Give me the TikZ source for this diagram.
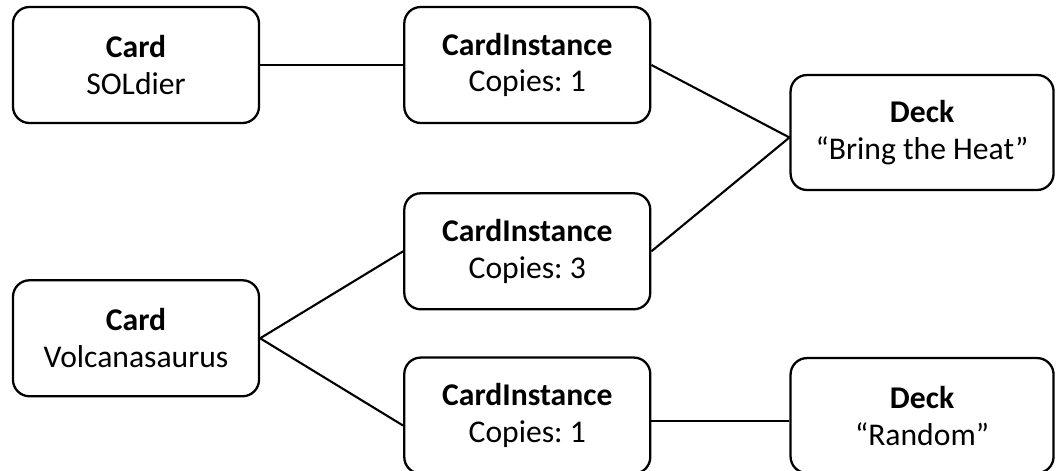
\documentclass[tikz,border=0pt]{standalone}
\usepackage{fontspec}
\setmainfont{Carlito}
\usetikzlibrary{positioning}
\frenchspacing
\tikzset{
  entity/.style={draw, line width=1.3pt, rounded corners=0.33cm, align=center,
    minimum width=4.92cm, minimum height=2.32cm, inner sep=0pt,
    font=\fontsize{18}{21}\selectfont},
  deck/.style={entity, minimum width=5.26cm, minimum height=2.3cm},
  link/.style={line width=1.2pt}
}
\begin{document}
\begin{tikzpicture}
      \useasboundingbox (-2.72,1.3) rectangle (18.42,-8.12);
      % Define nodes
      \node[entity]                              (card1) {\textbf{Card}\\SOLdier};
      \node[entity, right=2.86cm of card1]       (inst1) {\textbf{CardInstance}\\Copies: 1};
      \node[deck, right=2.76cm of inst1, yshift=-1.35cm] (deck1) {\textbf{Deck}\\“Bring the Heat”};
      \node[entity, below=1.36cm of inst1]       (inst2) {\textbf{CardInstance}\\Copies: 3};
      \node[entity, left=2.86cm of inst2, yshift=-1.74cm] (card2) {\textbf{Card}\\Volcanasaurus};
      \node[entity, below=0.92cm of inst2]       (inst3) {\textbf{CardInstance}\\Copies: 1};
      \node[deck, right=2.76cm of inst3]         (deck2) {\textbf{Deck}\\“Random”};
      % Connect nodes
      \draw[link] (card1.east) -- (inst1.west);
      \draw[link] (inst1.east) -- ([yshift=-0.1cm]deck1.west);
      \draw[link] (inst2.east) -- ([yshift=-0.1cm]deck1.west);
      \draw[link] (card2.east) -- (inst2.west);
      \draw[link] (card2.east) -- ([yshift=-0.2cm]inst3.west);
      \draw[link] ([yshift=-0.1cm]inst3.east) -- ([yshift=-0.1cm]deck2.west);
    \end{tikzpicture}
\end{document}
